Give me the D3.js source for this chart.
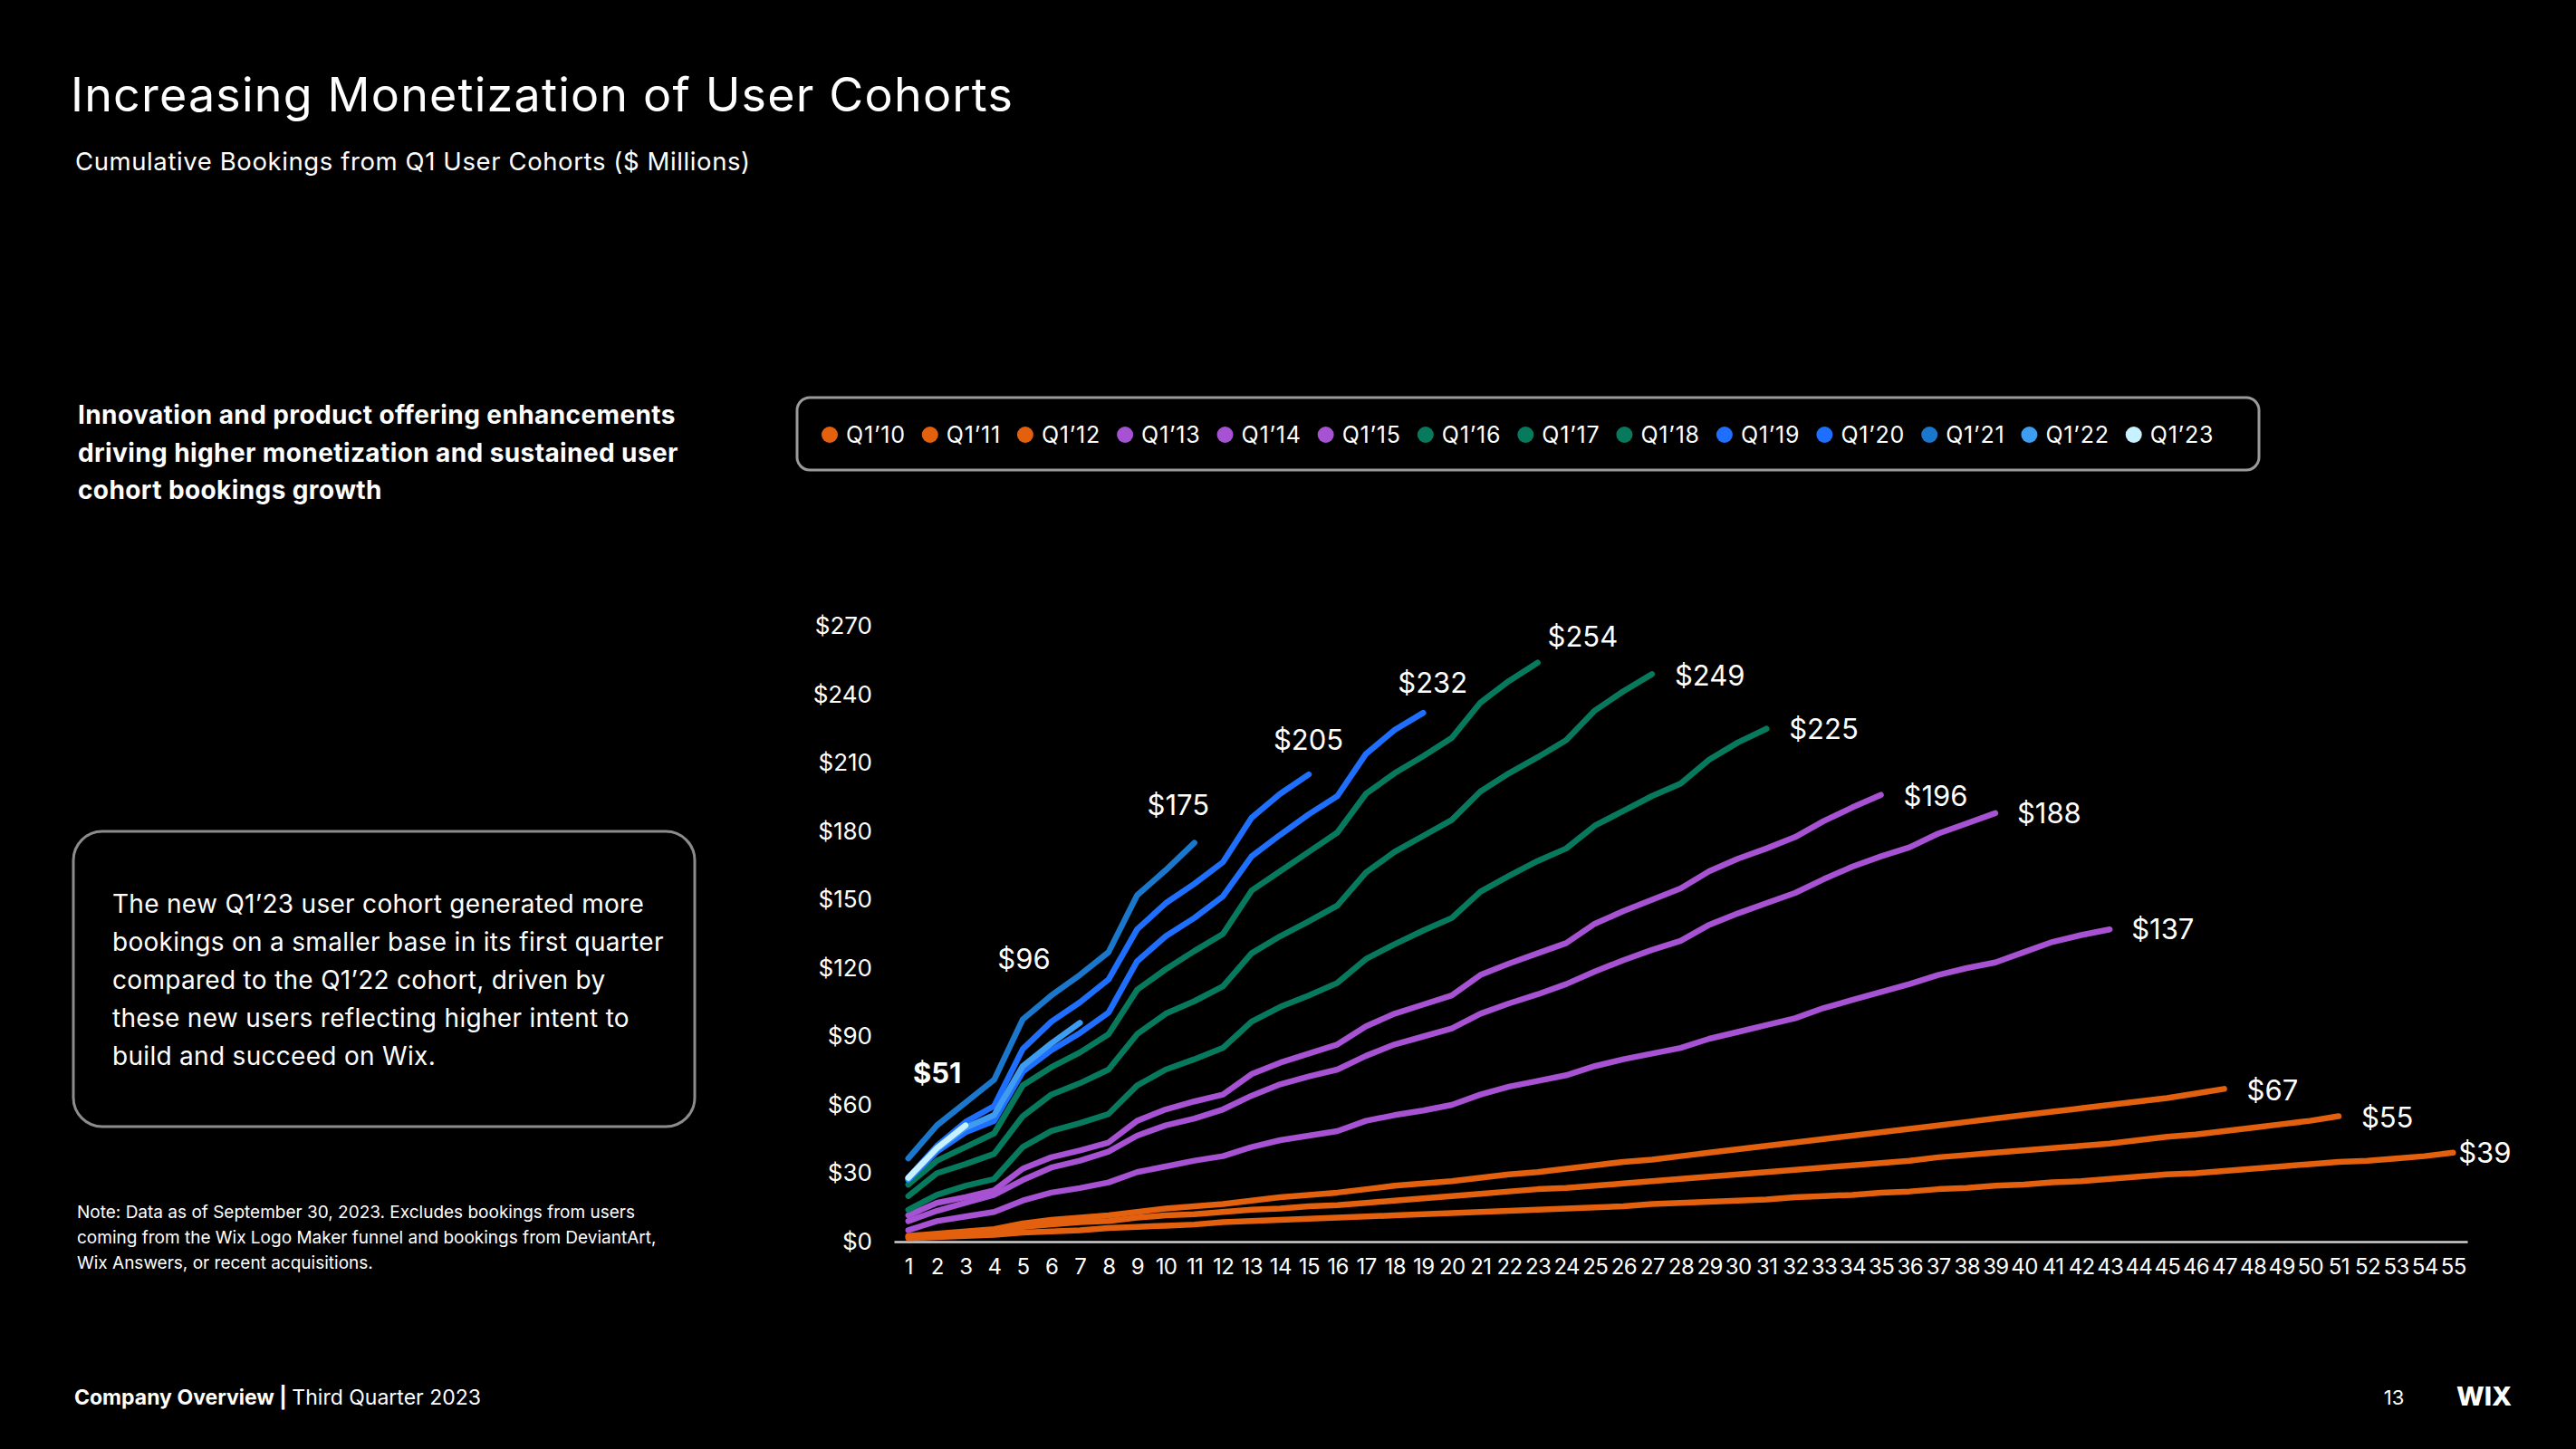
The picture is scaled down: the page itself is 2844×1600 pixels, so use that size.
<!DOCTYPE html>
<html>
<head>
<meta charset="utf-8">
<script src="https://cdn.jsdelivr.net/npm/d3@7"></script>
<style>
  html, body { margin: 0; padding: 0; background: #000; }
  svg { display: block; }
  text { font-family: Inter, "Noto Sans", sans-serif; fill: #fff; }
</style>
</head>
<body>
<svg id="chart" width="2844" height="1600"></svg>
<script>
// ---------------- DATA ----------------
const quarterLabels = [1,2,3,4,5,6,7,8,9,10,11,12,13,14,15,16,17,18,19,20,21,22,23,24,25,26,27,28,29,30,31,32,33,34,35,36,37,38,39,40,41,42,43,44,45,46,47,48,49,50,51,52,53,54,55];
const yTicks = [0,30,60,90,120,150,180,210,240,270];
const cohorts = ["Q1’10","Q1’11","Q1’12","Q1’13","Q1’14","Q1’15","Q1’16","Q1’17","Q1’18","Q1’19","Q1’20","Q1’21","Q1’22","Q1’23"];

const q1_10 = [1.5,2,2.5,3,4,4.5,5,6,6.5,7,7.5,8.5,9,9.5,10,10.5,11,11.5,12,12.5,13,13.5,14,14.5,15,15.5,16.5,17,17.5,18,18.5,19.5,20,20.5,21.5,22,23,23.5,24.5,25,26,26.5,27.5,28.5,29.5,30,31,32,33,34,35,35.5,36.5,37.5,39];
const q1_11 = [2,3,3.5,4.5,6.5,7.5,8.5,9,10.5,11.5,12,13,14,14.5,15.5,16,17,18,19,20,21,22,23,23.5,24.5,25.5,26.5,27.5,28.5,29.5,30.5,31.5,32.5,33.5,34.5,35.5,37,38,39,40,41,42,43,44.5,46,47,48.5,50,51.5,53,55];
const q1_12 = [2.5,3.5,4.5,5.5,8,9.5,10.5,11.5,13,14.5,15.5,16.5,18,19.5,20.5,21.5,23,24.5,25.5,26.5,28,29.5,30.5,32,33.5,35,36,37.5,39,40.5,42,43.5,45,46.5,48,49.5,51,52.5,54,55.5,57,58.5,60,61.5,63,65,67];
const q1_13 = [5,9,11,13,18,21.5,23.5,26,30.5,33,35.5,37.5,41.5,44.5,46.5,48.5,53,55.5,57.5,60,64.5,68,70.5,73,77,80,82.5,85,89,92,95,98,102.5,106,109.5,113,117,120,122.5,127,131.5,134.5,137];
const q1_14 = [9,13.5,17,20.5,27,32.5,35.5,39.5,46.5,51,54,58,64,69,72.5,75.5,81.5,86.5,90,93.5,100,104.5,108.5,113,118.5,123.5,128,132,139,144,148.5,153,159,164.5,169,173,179,183.5,188];
const q1_15 = [11.5,17,19.5,22.5,32,37,40,43.5,53,58,61.5,64.5,73.5,78.5,82.5,86.5,94.5,100,104,108,117,122,126.5,131,139.5,145,150,155,162.5,168,172.5,177.5,184.5,190.5,196];
const q1_16 = [14,20.5,24.5,27.5,41.5,48.5,52,56,68.5,75.5,80,85,96.5,103,108,113.5,124,130.5,136.5,142,153.5,160.5,167,172.5,182.5,189,195.5,201,211.5,219,225];
const q1_17 = [20,30,34,38.5,55,64.5,69.5,75.5,91,100,105.5,112,126.5,134,140.5,147.5,162,171,178,185,197.5,205.5,212.5,220,233,241.5,249];
const q1_18 = [25,35.5,41.5,47.5,68.5,76.5,83,91,110.5,119.5,127.5,135,154,162.5,171,179.5,196.5,205.5,213,221,236.5,246,254];
const q1_19 = [27,39.5,48,53,74.5,84,91.5,100.5,123,134,142,151.5,169,178.5,187.5,195.5,214,224.5,232];
const q1_20 = [28,42,52.5,59.5,84.5,96.5,105,115,137,148.5,157,166.5,186,196.5,205];
const q1_21 = [36.5,51,61,71,97.5,108,117,127,152,163,175];
const q1_22 = [27.5,40.5,50,55.5,77,87,96];
const q1_23 = [28,41,51];

const seriesValues = [q1_10,q1_11,q1_12,q1_13,q1_14,q1_15,q1_16,q1_17,q1_18,q1_19,q1_20,q1_21,q1_22,q1_23];

// ---------------- STYLE ----------------
const colors = ["#E2600E","#E2600E","#E2600E","#A652D3","#A652D3","#A652D3","#077A5D","#077A5D","#077A5D","#1F6FFF","#1F6FFF","#1B77CB","#3E9DF0","#C8F1FF"];
// end-label offsets (px) relative to each line's last point
const labelOffsets = [[6,0],[25,1],[25,1],[24,-1],[24,0],[25,1],[25,0],[25,1],[11,-29],[-28,-34],[-39,-39],[-52,-42],[-91,-71],[-58,-58]];

const svg = d3.select("#chart");

// ---------------- TEXT BLOCKS ----------------
svg.append("text").attr("x", 78).attr("y", 123).attr("font-size", 52).attr("font-weight", 400)
  .attr("letter-spacing", 1.2)
  .text("Increasing Monetization of User Cohorts");
svg.append("text").attr("x", 83).attr("y", 188).attr("font-size", 27.5).attr("font-weight", 400)
  .attr("letter-spacing", 0.6)
  .text("Cumulative Bookings from Q1 User Cohorts ($ Millions)");

const boldLines = ["Innovation and product offering enhancements","driving higher monetization and sustained user","cohort bookings growth"];
svg.append("g").selectAll("text").data(boldLines).join("text")
  .attr("x", 86).attr("y", (d,i) => 468 + i*41.5)
  .attr("font-size", 28).attr("font-weight", 700).attr("letter-spacing", 0.4)
  .text(d => d);

svg.append("rect").attr("x", 81).attr("y", 918).attr("width", 686).attr("height", 326)
  .attr("rx", 32).attr("fill", "none").attr("stroke", "#8c8c8c").attr("stroke-width", 3);
const boxLines = ["The new Q1’23 user cohort generated more","bookings on a smaller base in its first quarter","compared to the Q1’22 cohort, driven by","these new users reflecting higher intent to","build and succeed on Wix."];
svg.append("g").selectAll("text").data(boxLines).join("text")
  .attr("x", 124).attr("y", (d,i) => 1008 + i*42)
  .attr("font-size", 28).attr("font-weight", 400).attr("letter-spacing", 0.3)
  .text(d => d);

const noteLines = ["Note: Data as of September 30, 2023. Excludes bookings from users","coming from the Wix Logo Maker funnel and bookings from DeviantArt,","Wix Answers, or recent acquisitions."];
svg.append("g").selectAll("text").data(noteLines).join("text")
  .attr("x", 85).attr("y", (d,i) => 1345 + i*28)
  .attr("font-size", 19).attr("font-weight", 400)
  .text(d => d);

const foot = svg.append("text").attr("x", 82).attr("y", 1551).attr("font-size", 23);
foot.append("tspan").attr("font-weight", 700).text("Company Overview");
foot.append("tspan").attr("font-weight", 700).text("  |  ");
foot.append("tspan").attr("font-weight", 400).text("Third Quarter 2023");
svg.append("text").attr("x", 2643).attr("y", 1551).attr("font-size", 22).attr("text-anchor", "middle").text("13");
svg.append("text").attr("x", 2712).attr("y", 1552).attr("font-size", 29).attr("font-weight", 800).text("WIX");

// ---------------- SCALES & AXES ----------------
const x = d3.scalePoint().domain(quarterLabels).range([987, 2724]).padding(0.5);
const y = d3.scaleLinear().domain([0, 270]).range([1371, 691.5]);

const yAxis = svg.append("g").attr("transform", "translate(987,0)")
  .call(d3.axisLeft(y).tickValues(yTicks).tickSize(0).tickPadding(24).tickFormat(d => "$" + d));
yAxis.select(".domain").remove();
yAxis.selectAll("text").attr("font-size", 26).attr("fill", "#fff").attr("font-family", "Inter, 'Noto Sans', sans-serif");

const xAxis = svg.append("g").attr("transform", "translate(0,1371)")
  .call(d3.axisBottom(x).tickSize(0).tickSizeOuter(0).tickPadding(19));
xAxis.select(".domain").attr("stroke", "#d0d0d0").attr("stroke-width", 2.5);
xAxis.selectAll("text").attr("font-size", 24).attr("fill", "#fff").attr("font-family", "Inter, 'Noto Sans', sans-serif")
  .attr("letter-spacing", -0.6);

// ---------------- LINES ----------------
const series = cohorts.map((name, i) => ({
  name, color: colors[i], off: labelOffsets[i],
  values: seriesValues[i].map((v, k) => ({ q: quarterLabels[k], v }))
}));

const line = d3.line().x(d => x(d.q)).y(d => y(d.v));

svg.append("g").selectAll("path").data(series).join("path")
  .attr("d", d => line(d.values))
  .attr("fill", "none")
  .attr("stroke", d => d.color)
  .attr("stroke-width", 6.5)
  .attr("stroke-linecap", "round")
  .attr("stroke-linejoin", "round");

// end labels
svg.append("g").selectAll("text").data(series).join("text")
  .attr("x", d => x(d.values[d.values.length-1].q) + d.off[0])
  .attr("y", d => y(d.values[d.values.length-1].v) + d.off[1])
  .attr("dominant-baseline", "central")
  .attr("font-size", 31)
  .attr("font-weight", d => d.name === "Q1’23" ? 700 : 400)
  .text(d => "$" + Math.round(d.values[d.values.length-1].v));

// ---------------- LEGEND ----------------
svg.append("rect").attr("x", 880).attr("y", 439).attr("width", 1614).attr("height", 80)
  .attr("rx", 14).attr("fill", "none").attr("stroke", "#9a9a9a").attr("stroke-width", 3);
const legend = svg.append("g");
let cx = 916;
series.forEach(s => {
  legend.append("circle").attr("cx", cx).attr("cy", 480).attr("r", 9).attr("fill", s.color);
  const t = legend.append("text").attr("x", cx + 18).attr("y", 480)
    .attr("dominant-baseline", "central").attr("font-size", 25).attr("letter-spacing", 0.8).text(s.name);
  cx = cx + 18 + t.node().getComputedTextLength() + 27;
});
</script>
</body>
</html>
